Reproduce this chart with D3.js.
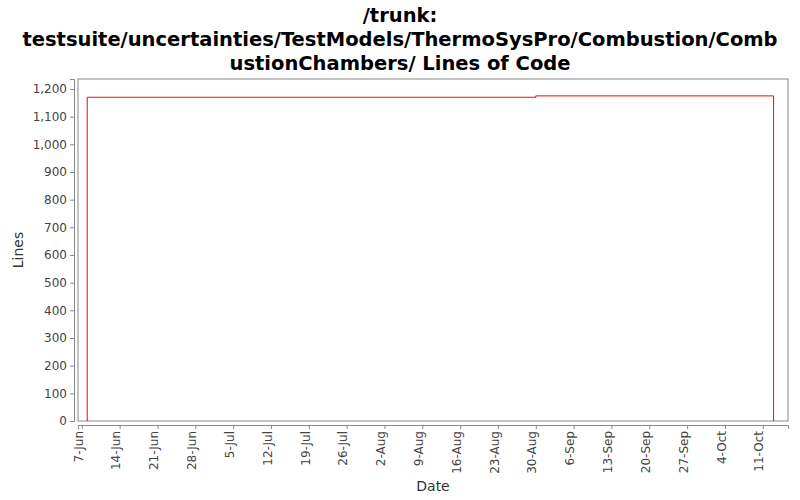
<!DOCTYPE html>
<html><head><meta charset="utf-8">
<script src="https://cdn.jsdelivr.net/npm/d3@7"></script>
<style>body{margin:0;background:#fff;font-family:"DejaVu Sans",sans-serif}</style>
</head><body><div id="chart"></div>
<script>
// data
var dates = ["2010-06-08", "2010-08-30", "2010-08-30", "2010-10-13"];
var lines = [1170, 1170, 1175, 1175];
var yTicks = [0,100,200,300,400,500,600,700,800,900,1000,1100,1200];
var titleLines = ["/trunk:", "testsuite/uncertainties/TestModels/ThermoSysPro/Combustion/Comb", "ustionChambers/ Lines of Code"];

var parse = d3.timeParse("%Y-%m-%d");
var data = dates.map((d, i) => ({x: parse(d), y: lines[i]}));

var margin = {top: 79, right: 12, bottom: 79, left: 78},
    width = 800 - margin.left - margin.right,
    height = 500 - margin.top - margin.bottom;

var svg = d3.select("#chart").append("svg")
    .attr("width", 800).attr("height", 500);

svg.selectAll(".title").data(titleLines).enter().append("text")
  .attr("x", 400).attr("y", (d, i) => 22 + i * 24)
  .attr("text-anchor", "middle").style("font-weight", "bold").style("font-size", "19.5px")
  .text(d => d);

var g = svg.append("g").attr("transform", "translate(" + margin.left + "," + margin.top + ")");

var xScale = d3.scaleTime()
    .domain([new Date(2010, 5, 6, 7), new Date(2010, 9, 15, 16)])
    .range([0, width]);
var yScale = d3.scaleLinear().domain([0, 1236]).range([height, 0]);

g.append("rect").attr("width", width).attr("height", height)
  .attr("fill", "#fff").attr("stroke", "#888");

var tickDates = d3.timeDay.range(new Date(2010, 5, 7), new Date(2010, 9, 12), 7);
var fmt = d3.timeFormat("%-d-%b");

var xAxis = g.append("g").attr("transform", "translate(0," + (height + 4) + ")")
  .call(d3.axisBottom(xScale).tickValues(tickDates).tickFormat(fmt).tickSizeOuter(0).tickSize(4));
xAxis.selectAll("text").attr("transform", "rotate(-90)")
  .attr("x", -6).attr("y", -4).attr("dy", "0.35em").style("text-anchor", "end");

var yAxis = g.append("g").attr("transform", "translate(-4,0)")
  .call(d3.axisLeft(yScale).tickValues(yTicks).tickFormat(d3.format(",")).tickSizeOuter(0).tickSize(4));

[xAxis, yAxis].forEach(a => {
  a.selectAll("path,line").attr("stroke", "#888");
  a.selectAll("text").attr("fill", "#444").style("font-size", "12px").style("font-family", "DejaVu Sans");
});

var pts = [{x: data[0].x, y: 0}].concat(data, [{x: data[data.length - 1].x, y: 0}]);
g.append("path").datum(pts)
  .attr("fill", "none").attr("stroke", "#f00").attr("stroke-width", 1)
  .attr("d", d3.line().x(d => xScale(d.x)).y(d => yScale(d.y)));

svg.append("text").attr("x", margin.left + width / 2).attr("y", 491)
  .attr("text-anchor", "middle").style("font-size", "14px").attr("fill", "#333").text("Date");
svg.append("text").attr("transform", "translate(23," + (margin.top + height / 2) + ") rotate(-90)")
  .attr("text-anchor", "middle").style("font-size", "14px").attr("fill", "#333").text("Lines");
</script></body></html>
